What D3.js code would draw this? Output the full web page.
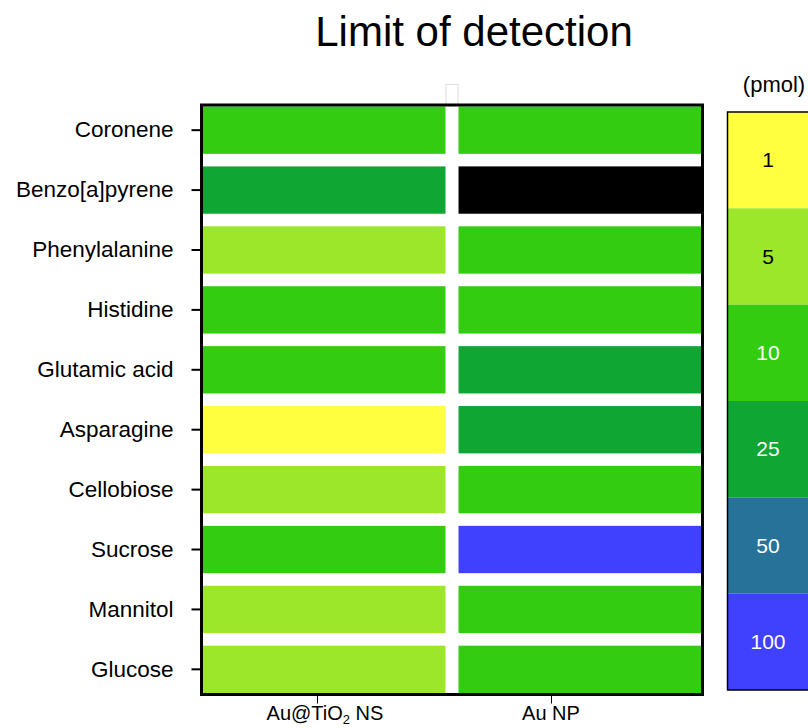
<!DOCTYPE html>
<html>
<head>
<meta charset="utf-8">
<script src="https://cdn.jsdelivr.net/npm/d3@7"></script>
<style>
  body { margin: 0; background: #fff; }
  svg { font-family: "Liberation Sans", Arial, sans-serif; }
</style>
</head>
<body>
<div id="chart"></div>
<script>
// analytes, top to bottom
const analytes = ['Coronene', 'Benzo[a]pyrene', 'Phenylalanine', 'Histidine', 'Glutamic acid',
  'Asparagine', 'Cellobiose', 'Sucrose', 'Mannitol', 'Glucose'];
const substrates = ['AuTiO2', 'AuNP'];
// limit of detection (pmol); null = not detected (black)
const lodAuTiO2 = [10, 25, 5, 10, 10, 1, 5, 10, 5, 5];
const lodAuNP = [10, null, 10, 10, 25, 25, 10, 100, 10, 10];
const levels = [1, 5, 10, 25, 50, 100];
const levelColors = ['#ffff40', '#9de72a', '#33cc10', '#10a634', '#277299', '#4040ff'];
const levelTextColors = ['#000', '#000', '#fff', '#fff', '#fff', '#fff'];

const width = 808, height = 728;
const plot = { left: 201.5, right: 702.5, top: 105, bottom: 694.5 };

const svg = d3.select('#chart').append('svg')
  .attr('width', width)
  .attr('height', height);

svg.append('text')
  .attr('x', 474)
  .attr('y', 46)
  .attr('text-anchor', 'middle')
  .attr('font-size', 42)
  .text('Limit of detection');

const x = d3.scaleBand()
  .domain(substrates)
  .range([plot.left + 1.5, plot.right - 1.5])
  .paddingInner(0.051);

const y = d3.scaleBand()
  .domain(analytes)
  .range([plot.top + 1.5, plot.bottom - 1.5])
  .paddingInner(0.21);

const color = d3.scaleOrdinal()
  .domain(levels)
  .range(levelColors);

const cells = [];
analytes.forEach((a, i) => {
  cells.push({ analyte: a, substrate: 'AuTiO2', value: lodAuTiO2[i] });
  cells.push({ analyte: a, substrate: 'AuNP', value: lodAuNP[i] });
});

svg.append('g')
  .selectAll('rect')
  .data(cells)
  .enter()
  .append('rect')
  .attr('x', (d) => x(d.substrate))
  .attr('y', (d) => y(d.analyte))
  .attr('width', x.bandwidth())
  .attr('height', y.bandwidth())
  .attr('fill', (d) => d.value === null ? '#000' : color(d.value));

// little artifact box above the column gap
svg.append('rect')
  .attr('x', x('AuNP') - x.step() * x.paddingInner() + 0.5)
  .attr('y', 84.5)
  .attr('width', x.step() * x.paddingInner() - 1)
  .attr('height', plot.top - 85)
  .attr('fill', 'none')
  .attr('stroke', '#ddd')
  .attr('stroke-width', 1);

// frame
svg.append('rect')
  .attr('x', plot.left)
  .attr('y', plot.top)
  .attr('width', plot.right - plot.left)
  .attr('height', plot.bottom - plot.top)
  .attr('fill', 'none')
  .attr('stroke', '#000')
  .attr('stroke-width', 3);

// left axis
const yAxis = svg.append('g')
  .attr('transform', `translate(${plot.left - 1},0)`)
  .call(d3.axisLeft(y).tickSize(9).tickPadding(18));
yAxis.select('.domain').remove();
yAxis.selectAll('.tick line').attr('stroke', '#000').attr('stroke-width', 2);
yAxis.selectAll('.tick text')
  .attr('font-size', 22.5)
  .attr('font-family', '"Liberation Sans", Arial, sans-serif')
  .attr('fill', '#000');

// bottom axis (tick positions sit off the column centres in the original)
const xTicks = d3.scalePoint()
  .domain(substrates)
  .range([317, 551]);
const xAxis = svg.append('g')
  .attr('transform', `translate(0,${plot.bottom + 1})`)
  .call(d3.axisBottom(xTicks).tickSize(8).tickPadding(6).tickFormat(''));
xAxis.select('.domain').remove();
xAxis.selectAll('.tick line').attr('stroke', '#000').attr('stroke-width', 1);

const xLab = svg.append('g')
  .attr('font-size', 20);
const lab1 = xLab.append('text')
  .attr('x', xTicks('AuTiO2') + 8)
  .attr('y', 720)
  .attr('text-anchor', 'middle');
lab1.append('tspan').text('Au@TiO');
lab1.append('tspan').attr('font-size', 13).attr('dy', 4).text('2');
lab1.append('tspan').attr('dy', -4).text(' NS');
xLab.append('text')
  .attr('x', xTicks('AuNP'))
  .attr('y', 720)
  .attr('text-anchor', 'middle')
  .text('Au NP');

// legend
const legend = { left: 727.5, right: 830, top: 112, bottom: 690 };
const ly = d3.scaleBand()
  .domain(levels)
  .range([legend.top, legend.bottom]);

const lg = svg.append('g');
lg.selectAll('rect')
  .data(levels)
  .enter()
  .append('rect')
  .attr('x', legend.left)
  .attr('y', (d) => ly(d))
  .attr('width', legend.right - legend.left)
  .attr('height', ly.bandwidth())
  .attr('fill', (d) => color(d));

lg.append('rect')
  .attr('x', legend.left)
  .attr('y', legend.top)
  .attr('width', legend.right - legend.left)
  .attr('height', legend.bottom - legend.top)
  .attr('fill', 'none')
  .attr('stroke', '#000')
  .attr('stroke-width', 1.5);

lg.selectAll('text.lvl')
  .data(levels)
  .enter()
  .append('text')
  .attr('class', 'lvl')
  .attr('x', 768)
  .attr('y', (d) => ly(d) + ly.bandwidth() / 2 + 7)
  .attr('text-anchor', 'middle')
  .attr('font-size', 21)
  .attr('fill', (d, i) => levelTextColors[i])
  .text((d) => d);

svg.append('text')
  .attr('x', 774)
  .attr('y', 92)
  .attr('text-anchor', 'middle')
  .attr('font-size', 22)
  .text('(pmol)');
</script>
</body>
</html>
